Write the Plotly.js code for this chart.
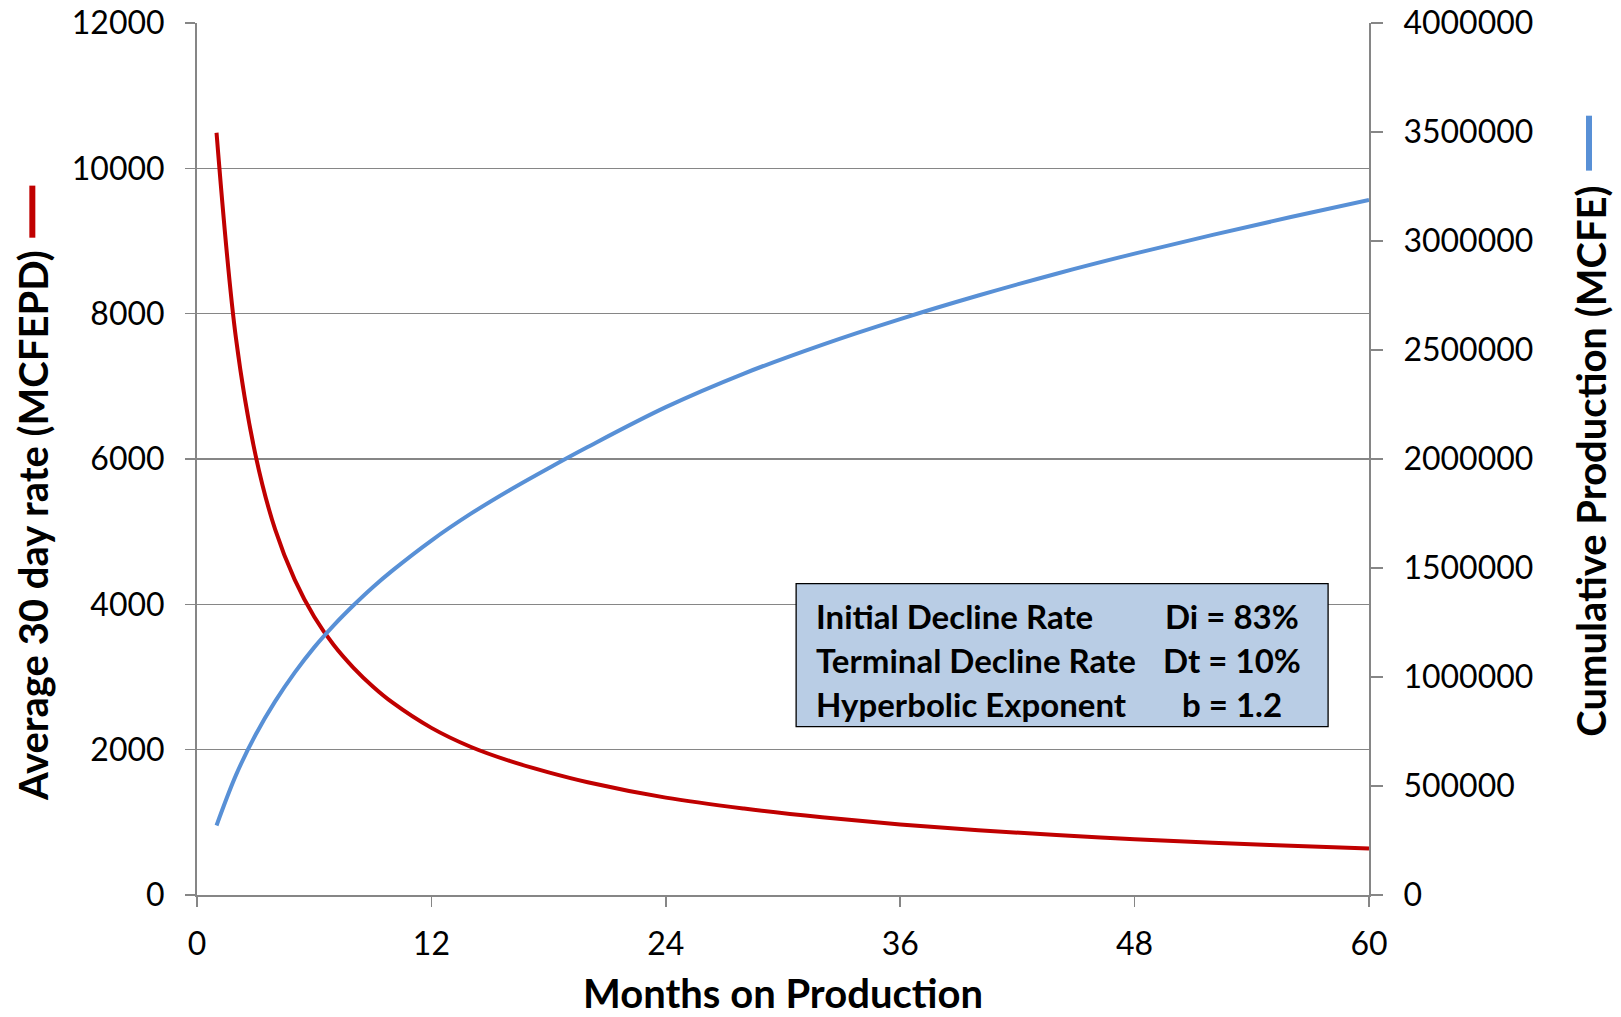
<!DOCTYPE html>
<html>
<head>
<meta charset="utf-8">
<script src="https://cdn.plot.ly/plotly-3.0.1.min.js"></script>
<style>
  html, body { margin: 0; padding: 0; background: #ffffff; }
  #chart { width: 1621px; height: 1017px; }
</style>
</head>
<body>
<div id="chart"></div>
<script>
// Months on production
const months = [1, 2, 3, 4, 5, 6, 7, 8, 9, 10, 12, 14, 16, 18, 20, 24, 28, 32, 36, 40, 44, 48, 52, 56, 60];
// Average 30 day rate (MCFEPD)
const rate = [10490, 7650, 6050, 5030, 4340, 3830, 3440, 3130, 2870, 2650, 2300, 2040, 1845, 1688, 1552, 1340, 1190, 1070, 970, 890, 825, 768, 720, 677, 640];
// Cumulative production (MCFE)
const cumulative = [319000, 551000, 735000, 888000, 1020000, 1136000, 1237000, 1328000, 1412000, 1488000, 1626000, 1748000, 1857000, 1958000, 2055000, 2238000, 2392000, 2524000, 2642000, 2750000, 2850000, 2942000, 3028000, 3110000, 3188000];

const xTicks = [0, 12, 24, 36, 48, 60];
const leftTicks = [0, 2000, 4000, 6000, 8000, 10000, 12000];
const rightTicks = [0, 500000, 1000000, 1500000, 2000000, 2500000, 3000000, 3500000, 4000000];

const boxLabels = ["Initial Decline Rate", "Terminal Decline Rate", "Hyperbolic Exponent"];
const boxValues = ["Di = 83%", "Dt = 10%", "b = 1.2"];

const FONT = "Lato, 'Open Sans', sans-serif";
const RED = "#C00000";
const BLUE = "#5890D6";
const AXIS = "#868686";

const traces = [
  {
    x: months, y: rate, type: "scatter", mode: "lines", name: "Average 30 day rate",
    line: { color: RED, width: 4, shape: "spline", smoothing: 1 },
    yaxis: "y", hoverinfo: "x+y"
  },
  {
    x: months, y: cumulative, type: "scatter", mode: "lines", name: "Cumulative Production",
    line: { color: BLUE, width: 4, shape: "spline", smoothing: 1 },
    yaxis: "y2", hoverinfo: "x+y"
  }
];

const rowY = [0.3205, 0.2700, 0.2196];
const annotations = [
  {
    xref: "paper", yref: "paper", x: -0.1404, y: 0.4236,
    text: "<b>Average 30 day rate (MCFEPD)</b>", textangle: -90,
    showarrow: false, xanchor: "center", yanchor: "middle",
    font: { family: FONT, size: 40, color: "#000" }
  },
  {
    xref: "paper", yref: "paper", x: 1.1895, y: 0.497,
    text: "<b>Cumulative Production (MCFE)</b>", textangle: -90,
    showarrow: false, xanchor: "center", yanchor: "middle",
    font: { family: FONT, size: 40, color: "#000" }
  }
];
boxLabels.forEach((t, i) => {
  annotations.push({
    xref: "paper", yref: "paper", x: 0.5266, y: rowY[i], text: "<b>" + t + "</b>",
    showarrow: false, xanchor: "left", yanchor: "middle",
    font: { family: FONT, size: 33, color: "#000" }
  });
  annotations.push({
    xref: "paper", yref: "paper", x: 0.8832, y: rowY[i], text: "<b>" + boxValues[i] + "</b>",
    showarrow: false, xanchor: "center", yanchor: "middle",
    font: { family: FONT, size: 33, color: "#000" }
  });
});

const layout = {
  width: 1621, height: 1017,
  margin: { l: 197, r: 252, t: 23, b: 122, pad: 0 },
  paper_bgcolor: "#ffffff", plot_bgcolor: "#ffffff",
  showlegend: false,
  font: { family: FONT, size: 32, color: "#000" },
  xaxis: {
    range: [0, 60], tickvals: xTicks, ticktext: xTicks.map(String),
    ticks: "outside", ticklen: 10, tickwidth: 1.5, tickcolor: AXIS,
    showline: true, linecolor: AXIS, linewidth: 2,
    showgrid: false, zeroline: false,
    tickfont: { family: FONT, size: 32, color: "#000" },
    ticklabelstandoff: 10,
    title: { text: "<b>Months on Production</b>", font: { family: FONT, size: 40, color: "#000" }, standoff: 28 }
  },
  yaxis: {
    range: [0, 12000], tickvals: leftTicks, tickformat: "d",
    ticks: "outside", ticklen: 10, tickwidth: 1.5, tickcolor: AXIS,
    showline: true, linecolor: AXIS, linewidth: 2,
    showgrid: true, gridcolor: AXIS, gridwidth: 1.3, zeroline: false,
    tickfont: { family: FONT, size: 32, color: "#000" },
    ticklabelstandoff: 14
  },
  yaxis2: {
    range: [0, 4000000], tickvals: rightTicks, tickformat: "d",
    overlaying: "y", side: "right",
    ticks: "outside", ticklen: 12, tickwidth: 1.5, tickcolor: AXIS,
    showline: true, linecolor: AXIS, linewidth: 2,
    showgrid: false, zeroline: false,
    tickfont: { family: FONT, size: 32, color: "#000" },
    ticklabelstandoff: 14
  },
  shapes: [
    { type: "rect", xref: "paper", yref: "paper", x0: 0.5112, x1: 0.9651, y0: 0.1932, y1: 0.3571,
      fillcolor: "#B9CDE5", line: { color: "#000", width: 1.3 }, layer: "above" },
    { type: "line", xref: "paper", yref: "paper", x0: -0.1405, x1: -0.1405, y0: 0.7538, y1: 0.8135,
      line: { color: RED, width: 6 } },
    { type: "line", xref: "paper", yref: "paper", x0: 1.1877, x1: 1.1877, y0: 0.8307, y1: 0.8937,
      line: { color: BLUE, width: 6 } }
  ],
  annotations: annotations
};

Plotly.newPlot("chart", traces, layout, { displayModeBar: false, staticPlot: true });
</script>
</body>
</html>
